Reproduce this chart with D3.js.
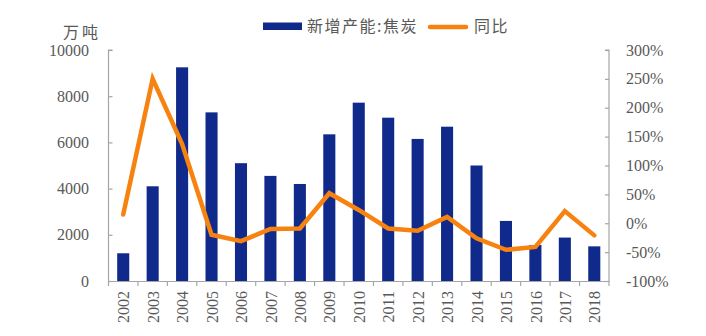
<!DOCTYPE html>
<html><head><meta charset="utf-8">
<script src="https://cdn.jsdelivr.net/npm/d3@7"></script>
<style>body{margin:0;background:#fff}svg{display:block}</style>
</head><body><svg id="c" width="706" height="336"></svg>
<script>
const years = ["2002","2003","2004","2005","2006","2007","2008","2009","2010","2011","2012","2013","2014","2015","2016","2017","2018"];
const capacity = [1200,4100,9250,7300,5100,4550,4200,6350,7720,7070,6150,6680,5000,2600,1560,1880,1500];
const yoy = [15,250,137,-20,-31,-10,-9,52,23,-9,-13,11,-26,-46,-41,21,-21];
const leftTicks = [0,2000,4000,6000,8000,10000];
const rightTicks = [-100,-50,0,50,100,150,200,250,300];
const barName = "新增产能:焦炭", lineName = "同比", unit = "万吨";

const svg = d3.select("#c");
const L = 108.5, R = 609, T = 50, B = 281;
const x = d3.scaleBand().domain(years).range([L, R]).padding(0);
const yL = d3.scaleLinear().domain([0,10000]).range([B, T]);
const yR = d3.scaleLinear().domain([-100,300]).range([B, T]);
const axisCol = "#a6a6a6", txtCol = "#595959";
const numFont = "'Liberation Serif', 'DejaVu Serif', serif";
const cjkFont = "'Noto Sans CJK SC', sans-serif";

// bars
const bw = x.bandwidth() * 0.41;
svg.append("g").selectAll("rect").data(years).join("rect")
  .attr("x", (d) => x(d) + x.bandwidth()/2 - bw/2)
  .attr("width", bw)
  .attr("y", (d,i) => yL(capacity[i]))
  .attr("height", (d,i) => B - yL(capacity[i]))
  .attr("fill", "#102a8b");

// left axis
const gl = svg.append("g").attr("transform", `translate(${L},0)`)
  .call(d3.axisRight(yL).tickValues(leftTicks).tickSize(4).tickFormat(""));
gl.selectAll("path,line").attr("stroke", axisCol).attr("stroke-width", 1.2);
gl.select(".domain").attr("d", `M4,${T}H0V${B}`);
svg.append("g").selectAll("text").data(leftTicks).join("text")
  .attr("x", 89).attr("y", d => yL(d)).attr("dy", "0.35em")
  .attr("text-anchor", "end").attr("font-family", numFont).attr("font-size", 16)
  .attr("fill", txtCol).text(d => d);

// right axis
const gr = svg.append("g").attr("transform", `translate(${R},0)`)
  .call(d3.axisLeft(yR).tickValues(rightTicks).tickSize(4).tickFormat(""));
gr.selectAll("path,line").attr("stroke", axisCol).attr("stroke-width", 1.2);
gr.select(".domain").attr("d", `M-4,${T}H0V${B}`);
svg.append("g").selectAll("text").data(rightTicks).join("text")
  .attr("x", 626).attr("y", d => yR(d)).attr("dy", "0.35em")
  .attr("text-anchor", "start").attr("font-family", numFont).attr("font-size", 16)
  .attr("fill", txtCol).text(d => d + "%");

// x axis
const gx = svg.append("g").attr("transform", `translate(0,${B})`)
  .call(d3.axisBottom(x).tickSize(0).tickFormat(""));
gx.select(".domain").attr("stroke", axisCol).attr("stroke-width", 1.2);
const bounds = years.map(d => x(d)).concat([R]);
svg.append("g").selectAll("line").data(bounds).join("line")
  .attr("x1", d => d).attr("x2", d => d).attr("y1", B).attr("y2", B + 5)
  .attr("stroke", axisCol).attr("stroke-width", 1.2);
svg.append("g").selectAll("text").data(years).join("text")
  .attr("transform", d => `translate(${x(d) + x.bandwidth()/2 + 0.5},${B + 10}) rotate(-90)`)
  .attr("dy", "0.35em").attr("text-anchor", "end")
  .attr("font-family", numFont).attr("font-size", 16).attr("fill", txtCol).text(d => d);

// line
const line = d3.line().x((d,i) => x(years[i]) + x.bandwidth()/2).y(d => yR(d));
svg.append("path").datum(yoy).attr("d", line)
  .attr("fill", "none").attr("stroke", "#f7820f").attr("stroke-width", 4.5)
  .attr("stroke-linejoin", "miter").attr("stroke-linecap", "round");

// unit title
svg.append("text").attr("x", 63).attr("y", 32).attr("dy", "0.35em")
  .attr("font-family", cjkFont).attr("font-size", 16).attr("letter-spacing", 3).attr("fill", txtCol).text(unit);

// legend
svg.append("rect").attr("x", 263).attr("y", 22.5).attr("width", 39).attr("height", 7.5).attr("fill", "#102a8b");
svg.append("text").attr("x", 307).attr("y", 26.5).attr("dy", "0.35em")
  .attr("font-family", cjkFont).attr("font-size", 16).attr("letter-spacing", 1.5).attr("fill", txtCol).text(barName);
svg.append("line").attr("x1", 430).attr("x2", 466).attr("y1", 27).attr("y2", 27)
  .attr("stroke", "#f7820f").attr("stroke-width", 4.5).attr("stroke-linecap", "round");
svg.append("text").attr("x", 474).attr("y", 26.5).attr("dy", "0.35em")
  .attr("font-family", cjkFont).attr("font-size", 16).attr("letter-spacing", 1.5).attr("fill", txtCol).text(lineName);
</script></body></html>
